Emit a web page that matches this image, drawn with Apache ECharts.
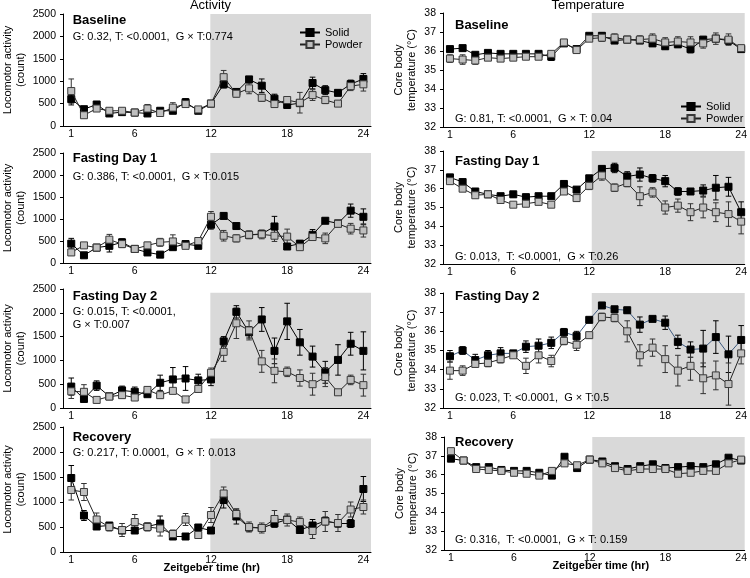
<!DOCTYPE html>
<html>
<head>
<meta charset="utf-8">
<script src="https://cdn.jsdelivr.net/npm/echarts@6/dist/echarts.min.js"></script>
<style>
html,body{margin:0;padding:0;background:#fff;}
#chart{width:750px;height:578px;}
</style>
</head>
<body>
<div id="chart"></div>
<script>
// ---------- DATA ----------
const hours = [1,2,3,4,5,6,7,8,9,10,11,12,13,14,15,16,17,18,19,20,21,22,23,24];
const xTickValues = [1, 6, 12, 18, 24];
const seriesNames = ['Solid', 'Powder'];
const panelTitles = ['Baseline', 'Fasting Day 1', 'Fasting Day 2', 'Recovery'];
const columnTitles = ['Activity', 'Temperature'];
const xAxisTitle = 'Zeitgeber time (hr)';
const actAxisName = 'Locomotor activity\n(count)';
const tempAxisName = 'Core body\ntemperature (°C)';

const actStats = [
  ['G: 0.32, T: <0.0001,  G × T:0.774'],
  ['G: 0.386, T: <0.0001,  G × T:0.015'],
  ['G: 0.015, T: <0.0001,', 'G × T:0.007'],
  ['G: 0.217, T: 0.0001,  G × T: 0.013']
];
const tempStats = [
  'G: 0.81, T: <0.0001,  G × T: 0.04',
  'G: 0.013,  T: <0.0001,  G × T:0.26',
  'G: 0.023, T: <0.0001,  G × T:0.5',
  'G: 0.316,  T: <0.0001,  G × T: 0.159'
];

// Activity - Baseline
const actBaseSolid     = [600,375,480,280,310,300,280,340,340,530,340,500,930,760,1040,900,610,470,510,960,800,740,935,1050];
const actBaseSolidErr  = [130,60,60,50,40,40,40,40,60,80,40,40,80,60,60,150,100,70,60,130,100,60,90,120];
const actBasePowder    = [780,240,390,340,340,300,390,290,410,490,370,500,1090,720,840,630,490,580,520,690,580,500,890,930];
const actBasePowderErr = [270,60,60,50,50,50,90,50,110,60,50,40,150,70,120,80,60,60,230,120,80,60,100,150];
// Activity - Fasting Day 1
const actFd1Solid      = [440,175,350,390,470,320,240,190,360,430,390,870,1070,840,640,660,830,375,440,640,960,900,1190,1050];
const actFd1SolidErr   = [120,40,60,140,80,50,60,40,60,60,50,100,70,40,60,80,230,50,70,120,60,50,150,180];
const actFd1Powder     = [240,400,350,530,430,320,400,470,490,390,500,1050,620,560,640,650,620,600,360,590,560,890,780,740];
const actFd1PowderErr  = [60,50,50,120,80,50,70,90,150,60,60,120,120,80,90,100,130,170,50,70,120,50,120,150];
// Activity - Fasting Day 2
const actFd2Solid      = [450,190,470,245,370,340,290,530,600,620,580,600,1400,2020,1590,1860,1200,1820,1380,1080,750,1010,1350,1200];
const actFd2SolidErr   = [180,50,100,40,90,100,50,160,250,250,130,130,100,130,120,250,270,380,270,220,230,320,240,400];
const actFd2Powder     = [350,340,170,240,270,220,380,270,360,180,400,740,1180,1780,1630,980,780,760,630,500,650,330,590,480];
const actFd2PowderErr  = [150,150,40,50,60,60,60,50,40,40,60,100,200,320,200,230,250,100,170,230,200,50,100,230];
// Activity - Recovery
const actRecSolid      = [1480,730,510,530,430,430,510,570,310,310,490,430,1040,710,490,480,570,650,440,530,620,570,570,1260];
const actRecSolidErr   = [250,100,40,40,60,40,40,150,40,40,40,40,160,150,50,60,60,50,40,120,80,70,80,250];
const actRecPowder     = [1240,1200,650,500,440,600,500,470,360,650,340,740,1170,760,500,480,660,640,600,420,610,580,850,900];
const actRecPowderErr  = [200,170,130,80,130,150,80,150,80,120,50,150,130,100,100,100,170,120,100,150,200,170,150,140];

// Temperature - Baseline
const tmpBaseSolid     = [36.1,36.15,35.8,35.9,35.85,35.85,35.85,35.85,35.7,36.4,36.1,36.8,36.8,36.55,36.6,36.55,36.4,36.25,36.35,36.1,36.6,36.65,36.55,36.1];
const tmpBaseSolidErr  = [0.1,0.15,0.1,0.1,0.1,0.1,0.1,0.1,0.2,0.1,0.1,0.1,0.15,0.1,0.1,0.1,0.15,0.15,0.15,0.2,0.1,0.1,0.2,0.1];
const tmpBasePowder    = [35.6,35.55,35.5,35.65,35.6,35.65,35.7,35.7,35.85,36.45,36.05,36.65,36.7,36.7,36.6,36.6,36.65,36.45,36.5,36.45,36.4,36.65,36.6,36.15];
const tmpBasePowderErr = [0.2,0.25,0.2,0.15,0.15,0.1,0.1,0.15,0.1,0.1,0.1,0.1,0.2,0.2,0.15,0.2,0.25,0.25,0.25,0.3,0.25,0.3,0.3,0.1];
// Temperature - Fasting Day 1
const tmpFd1Solid      = [36.6,36.35,35.85,35.7,35.6,35.7,35.55,35.6,35.6,36.25,35.95,36.55,37.05,37.1,36.65,36.75,36.55,36.4,35.85,35.85,35.9,36.05,36.1,34.75];
const tmpFd1SolidErr   = [0.1,0.1,0.1,0.1,0.1,0.15,0.1,0.1,0.1,0.1,0.1,0.15,0.15,0.25,0.25,0.35,0.2,0.3,0.2,0.15,0.3,0.65,0.5,0.55];
const tmpFd1Powder     = [36.4,36.0,35.65,35.7,35.4,35.15,35.2,35.3,35.15,35.85,35.5,36.15,36.7,36.05,36.3,35.6,35.8,35.0,35.1,34.75,35.0,34.75,34.65,34.25];
const tmpFd1PowderErr  = [0.1,0.1,0.1,0.1,0.1,0.1,0.1,0.1,0.1,0.15,0.1,0.2,0.25,0.2,0.2,0.5,0.25,0.35,0.35,0.45,0.55,0.5,0.65,0.65];
// Temperature - Fasting Day 2
const tmpFd2Solid      = [34.7,35.0,34.5,34.75,34.85,34.85,35.2,35.25,35.4,35.95,35.75,36.6,37.35,37.15,37.1,36.35,36.65,36.45,35.45,35.05,35.1,35.7,34.8,35.55];
const tmpFd2SolidErr   = [0.3,0.2,0.3,0.25,0.3,0.15,0.3,0.35,0.3,0.2,0.25,0.1,0.1,0.15,0.15,0.4,0.1,0.35,0.35,0.4,0.95,0.85,0.95,0.75];
const tmpFd2Powder     = [33.95,33.95,34.3,34.35,34.55,34.75,34.2,34.75,34.45,35.5,35.3,35.8,36.75,36.7,36.0,34.75,35.15,34.55,33.95,34.2,33.55,33.7,33.25,34.85];
const tmpFd2PowderErr  = [0.45,0.25,0.15,0.2,0.2,0.1,0.4,0.4,0.3,0.2,0.3,0.15,0.2,0.2,0.55,0.55,0.45,0.7,0.8,0.75,0.8,0.75,1.1,0.55];
// Temperature - Recovery
const tmpRecSolid      = [36.85,36.75,36.4,36.4,36.25,36.2,36.2,36.1,35.95,36.95,36.35,36.8,36.7,36.45,36.3,36.45,36.55,36.35,36.4,36.45,36.4,36.55,36.9,36.75];
const tmpRecSolidErr   = [0.1,0.05,0.05,0.05,0.05,0.05,0.05,0.05,0.05,0.1,0.05,0.05,0.05,0.05,0.05,0.05,0.05,0.05,0.1,0.15,0.05,0.05,0.1,0.1];
const tmpRecPowder     = [37.25,36.75,36.3,36.25,36.2,36.1,36.05,35.95,36.2,36.6,36.5,36.8,36.6,36.35,36.2,36.3,36.3,36.3,36.05,36.1,36.2,36.2,36.6,36.8];
const tmpRecPowderErr  = [0.1,0.05,0.05,0.05,0.05,0.05,0.05,0.05,0.05,0.05,0.05,0.05,0.05,0.05,0.05,0.05,0.05,0.05,0.05,0.05,0.05,0.05,0.05,0.1];

// ---------- LAYOUT / STYLE ----------
const FONT = "Arial, 'Liberation Sans', sans-serif";
const panels = [
  {kind:'act', grid:{left:61,top:14,width:310,height:112}, s:actBaseSolid, se:actBaseSolidErr, p:actBasePowder, pe:actBasePowderErr, shadeFrom:11.95, shadeTop:2500, titleY:20, statsY:[36.7]},
  {kind:'act', grid:{left:61,top:153,width:310,height:110}, s:actFd1Solid, se:actFd1SolidErr, p:actFd1Powder, pe:actFd1PowderErr, shadeFrom:11.95, shadeTop:2500, titleY:158.3, statsY:[176.7]},
  {kind:'act', grid:{left:61,top:289,width:310,height:119}, s:actFd2Solid, se:actFd2SolidErr, p:actFd2Powder, pe:actFd2PowderErr, shadeFrom:11.95, shadeTop:2420, titleY:296.7, statsY:[312.3,325]},
  {kind:'act', grid:{left:61,top:427,width:310,height:125}, s:actRecSolid, se:actRecSolidErr, p:actRecPowder, pe:actRecPowderErr, shadeFrom:11.95, shadeTop:2270, titleY:437.3, statsY:[453.3], bottom:true},
  {kind:'tmp', grid:{left:443,top:13,width:303,height:114}, s:tmpBaseSolid, se:tmpBaseSolidErr, p:tmpBasePowder, pe:tmpBasePowderErr, shadeFrom:12.2, shadeTop:38, titleY:25, statsY:[119]},
  {kind:'tmp', grid:{left:443,top:151,width:303,height:113}, s:tmpFd1Solid, se:tmpFd1SolidErr, p:tmpFd1Powder, pe:tmpFd1PowderErr, shadeFrom:12.2, shadeTop:38, titleY:161.7, statsY:[256.7]},
  {kind:'tmp', grid:{left:443,top:293,width:303,height:115}, s:tmpFd2Solid, se:tmpFd2SolidErr, p:tmpFd2Powder, pe:tmpFd2PowderErr, shadeFrom:12.2, shadeTop:38, titleY:296.7, statsY:[398.3], solidLine:'#3d5a80'},
  {kind:'tmp', grid:{left:444,top:437,width:302,height:113}, s:tmpRecSolid, se:tmpRecSolidErr, p:tmpRecPowder, pe:tmpRecPowderErr, shadeFrom:12.2, shadeTop:38, titleY:442.7, statsY:[540], bottom:true}
];

function errItem(color) {
  return function (params, api) {
    const x = api.value(0), lo = api.value(1), hi = api.value(2);
    const a = api.coord([x, lo]), b = api.coord([x, hi]);
    const hw = 2.8;
    const st = {stroke: color, lineWidth: 1, fill: null};
    return {type: 'group', children: [
      {type: 'line', shape: {x1: a[0], y1: a[1], x2: b[0], y2: b[1]}, style: st},
      {type: 'line', shape: {x1: b[0]-hw, y1: b[1], x2: b[0]+hw, y2: b[1]}, style: st},
      {type: 'line', shape: {x1: a[0]-hw, y1: a[1], x2: a[0]+hw, y2: a[1]}, style: st}
    ]};
  };
}

const grids = [], xAxes = [], yAxes = [], series = [], graphics = [];
panels.forEach((pn, i) => {
  const isAct = pn.kind === 'act';
  grids.push(Object.assign({containLabel: false}, pn.grid));
  xAxes.push({
    type: 'value', gridIndex: i,
    min: isAct ? 0.35 : 0.45, max: isAct ? 24.6 : 24.28,
    splitLine: {show: false},
    axisLine: {show: true, lineStyle: {color: '#000', width: 1}},
    axisTick: {show: false},
    axisLabel: {customValues: xTickValues, color: '#000', fontSize: 10.5, fontFamily: FONT, margin: 3,
      formatter: v => String(v)},
    z: 5
  });
  yAxes.push({
    type: 'value', gridIndex: i,
    min: isAct ? 0 : 32, max: isAct ? 2500 : 38, interval: isAct ? 500 : 1,
    splitLine: {show: false},
    axisLine: {show: true, lineStyle: {color: '#000', width: 1}},
    axisTick: {show: true, length: 3, lineStyle: {color: '#000'}},
    axisLabel: {color: '#000', fontSize: 10.5, fontFamily: FONT, margin: 7, formatter: v => String(v)},
    name: isAct ? actAxisName : tempAxisName,
    nameLocation: 'middle', nameGap: isAct ? 36 : 25,
    nameTextStyle: {color: '#000', fontSize: 11, fontFamily: FONT, lineHeight: 13},
    z: 5
  });
  const solidPts = hours.map((h, k) => [h, pn.s[k]]);
  const powderPts = hours.map((h, k) => [h, pn.p[k]]);
  const solidErr = hours.map((h, k) => [h, pn.s[k] - pn.se[k], pn.s[k] + pn.se[k]]);
  const powderErr = hours.map((h, k) => [h, pn.p[k] - pn.pe[k], pn.p[k] + pn.pe[k]]);
  const xMax = isAct ? 24.6 : 24.28;
  series.push({
    type: 'custom', name: 'Solid err', xAxisIndex: i, yAxisIndex: i, z: 2,
    renderItem: errItem('#000'), encode: {x: 0, y: [1, 2]}, data: solidErr, silent: true,
    markArea: {silent: true, itemStyle: {color: '#d9d9d9'},
      data: [[{coord: [pn.shadeFrom, isAct ? 0 : 32]}, {coord: [xMax, pn.shadeTop]}]]}
  });
  series.push({
    type: 'custom', name: 'Powder err', xAxisIndex: i, yAxisIndex: i, z: 2,
    renderItem: errItem('#333'), encode: {x: 0, y: [1, 2]}, data: powderErr, silent: true
  });
  series.push({
    type: 'line', name: 'Solid', xAxisIndex: i, yAxisIndex: i, z: 3,
    data: solidPts, symbol: 'rect', symbolSize: 7,
    lineStyle: {color: pn.solidLine || '#000', width: 1},
    itemStyle: {color: '#000', borderColor: '#000', borderWidth: 1}
  });
  series.push({
    type: 'line', name: 'Powder', xAxisIndex: i, yAxisIndex: i, z: 4,
    data: powderPts, symbol: 'rect', symbolSize: 7,
    lineStyle: {color: '#222', width: 1},
    itemStyle: {color: '#bfbfbf', borderColor: '#3a3a3a', borderWidth: 1}
  });
  const tx = isAct ? 72.7 : 455;
  const row = isAct ? i : i - 4;
  graphics.push({type: 'text', style: {text: panelTitles[row], x: tx, y: pn.titleY, font: 'bold 13px ' + FONT, fill: '#000', verticalAlign: 'middle'}, z: 10});
  const statLines = isAct ? actStats[row] : [tempStats[row]];
  statLines.forEach((t, k) => {
    graphics.push({type: 'text', style: {text: t, x: tx, y: pn.statsY[k], font: '11px ' + FONT, fill: '#000', verticalAlign: 'middle'}, z: 10});
  });
  if (pn.bottom) {
    graphics.push({type: 'text', style: {text: xAxisTitle, x: isAct ? 211.7 : 600.8, y: isAct ? 567.7 : 566, font: 'bold 11px ' + FONT, fill: '#000', align: 'center', verticalAlign: 'middle'}, z: 10});
  }
});
graphics.push({type: 'text', style: {text: columnTitles[0], x: 210.5, y: 5.5, font: '13px ' + FONT, fill: '#000', align: 'center', verticalAlign: 'middle'}, z: 10});
graphics.push({type: 'text', style: {text: columnTitles[1], x: 588, y: 5.5, font: '13px ' + FONT, fill: '#000', align: 'center', verticalAlign: 'middle'}, z: 10});

const legendCommon = {
  orient: 'vertical', data: seriesNames, itemWidth: 20, itemHeight: 9, itemGap: 1,
  textStyle: {color: '#000', fontSize: 11, fontFamily: FONT}, selectedMode: false
};

const chart = echarts.init(document.getElementById('chart'), null, {renderer: 'canvas'});
chart.setOption({
  animation: false,
  backgroundColor: '#fff',
  grid: grids, xAxis: xAxes, yAxis: yAxes, series: series,
  legend: [
    Object.assign({left: 294, top: 22}, legendCommon),
    Object.assign({left: 675, top: 96}, legendCommon)
  ],
  graphic: graphics
});
</script>
</body>
</html>
